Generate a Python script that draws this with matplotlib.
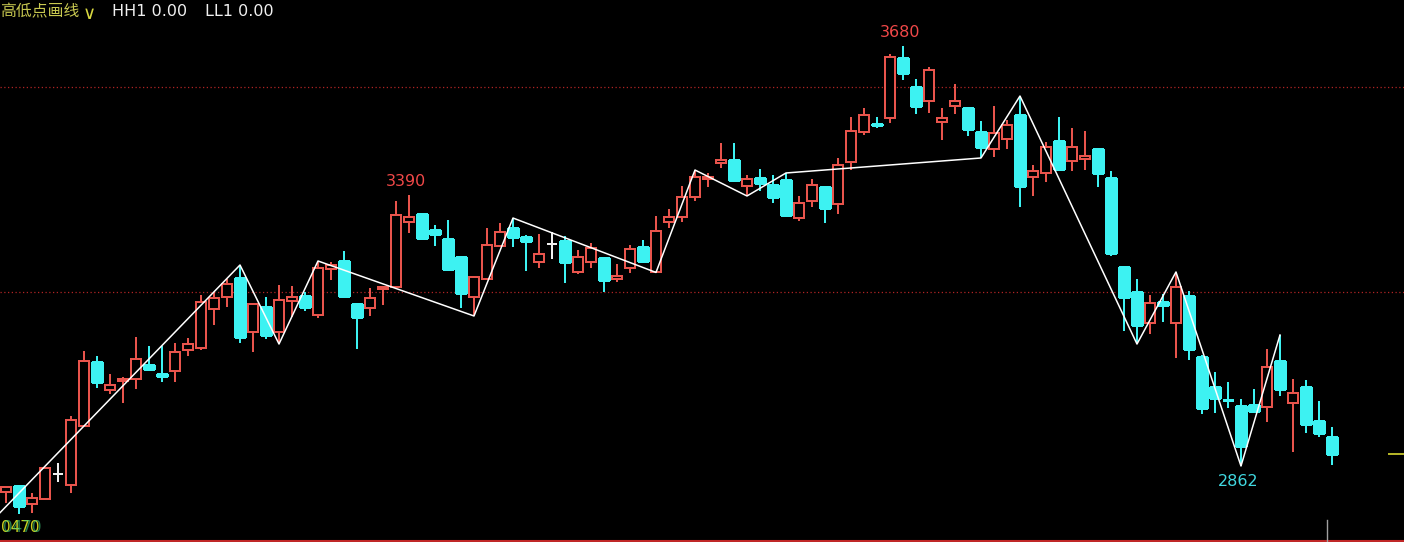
import matplotlib
matplotlib.use('Agg')
import matplotlib.pyplot as plt
from matplotlib.patches import Rectangle

# ---------------- data ----------------
opens = [2811.4, 2823.1, 2788.0, 2797.7, 2846.4, 2825.0, 2939.9, 3064.6, 3010.0, 3027.6,
         3031.5, 3058.7, 3041.2, 3047.0, 3087.9, 3091.8, 3167.8, 3191.2, 3228.2, 3123.0,
         3171.7, 3123.0, 3183.4, 3193.1, 3156.1, 3245.7, 3261.3, 3177.5, 3169.7, 3206.8,
         3210.6, 3337.2, 3352.8, 3321.7, 3304.1, 3269.1, 3191.2, 3226.2, 3290.5, 3325.5,
         3308.0, 3259.3, 3294.4, 3300.2, 3239.9, 3259.3, 3267.1, 3226.2, 3247.6, 3288.5,
         3239.9, 3337.2, 3347.0, 3385.9, 3421.0, 3452.1, 3458.0, 3407.3, 3422.9, 3409.3,
         3419.0, 3345.0, 3378.1, 3405.4, 3372.3, 3454.1, 3512.5, 3529.0, 3539.8, 3656.6,
         3600.2, 3572.9, 3532.0, 3563.2, 3559.3, 3512.5, 3479.4, 3498.9, 3545.6, 3424.9,
         3432.7, 3495.0, 3456.0, 3459.9, 3479.4, 3422.9, 3249.6, 3200.9, 3140.5, 3181.4,
         3140.5, 3193.1, 3074.3, 3015.9, 2991.0, 2978.9, 2980.8, 2976.9, 3066.5, 2984.7,
         3015.9, 2949.6, 2918.5]
highs = [2823.1, 2824.0, 2809.4, 2859.0, 2867.9, 2959.4, 3086.0, 3076.2, 3041.2, 3035.4,
         3113.2, 3095.7, 3095.7, 3101.6, 3111.3, 3195.1, 3200.9, 3226.2, 3253.5, 3178.0,
         3191.2, 3214.5, 3212.6, 3200.9, 3261.3, 3259.3, 3280.8, 3178.0, 3208.7, 3212.6,
         3378.1, 3390.0, 3353.0, 3331.4, 3341.1, 3269.5, 3232.1, 3325.5, 3335.3, 3345.0,
         3311.9, 3313.9, 3317.8, 3310.0, 3282.7, 3296.3, 3269.0, 3255.4, 3292.4, 3302.2,
         3348.9, 3362.5, 3407.3, 3438.5, 3432.7, 3491.1, 3491.1, 3428.8, 3440.5, 3428.8,
         3432.7, 3387.9, 3421.0, 3407.3, 3461.9, 3541.7, 3559.3, 3541.7, 3664.4, 3680.0,
         3615.7, 3639.1, 3559.3, 3606.0, 3560.0, 3533.9, 3563.2, 3535.9, 3582.6, 3448.2,
         3493.0, 3541.7, 3520.3, 3514.5, 3480.0, 3436.6, 3251.5, 3226.2, 3195.1, 3197.0,
         3239.9, 3202.8, 3078.2, 3045.1, 3025.6, 2992.5, 3012.0, 3089.9, 3117.1, 3031.5,
         3029.5, 2988.6, 2938.0]
lows = [2790.0, 2768.5, 2770.5, 2797.0, 2830.9, 2809.4, 2939.0, 3013.9, 3002.2, 2984.7,
        3012.0, 3051.0, 3025.6, 3025.6, 3076.2, 3087.9, 3136.6, 3171.7, 3101.6, 3084.0,
        3109.4, 3099.6, 3152.2, 3163.9, 3150.3, 3224.3, 3189.2, 3089.9, 3154.2, 3175.6,
        3210.0, 3315.8, 3302.2, 3290.5, 3245.0, 3169.7, 3154.2, 3226.0, 3290.0, 3288.5,
        3241.8, 3247.6, 3265.2, 3218.4, 3236.0, 3247.6, 3200.9, 3220.4, 3237.9, 3261.0,
        3239.0, 3325.5, 3337.2, 3378.1, 3405.4, 3442.4, 3415.1, 3387.9, 3397.6, 3374.2,
        3347.0, 3339.2, 3366.4, 3335.3, 3352.8, 3438.5, 3506.7, 3520.3, 3530.0, 3613.8,
        3547.6, 3549.5, 3496.9, 3547.6, 3504.7, 3461.9, 3463.8, 3479.4, 3366.4, 3387.9,
        3415.1, 3440.0, 3436.6, 3438.5, 3405.4, 3271.0, 3124.9, 3099.6, 3119.1, 3142.5,
        3072.4, 3068.5, 2963.3, 2965.3, 2975.0, 2862.0, 2969.0, 2947.7, 2998.3, 2889.3,
        2926.3, 2918.5, 2864.0]
closes = [2821.1, 2784.1, 2799.7, 2858.1, 2846.4, 2951.6, 3066.5, 3025.6, 3019.8, 3031.5,
          3070.4, 3051.0, 3037.3, 3084.0, 3099.6, 3181.4, 3189.2, 3216.5, 3113.2, 3177.5,
          3117.1, 3185.3, 3191.2, 3171.7, 3247.6, 3253.5, 3193.1, 3152.2, 3189.2, 3210.6,
          3350.9, 3347.0, 3306.1, 3313.9, 3245.7, 3199.0, 3230.1, 3292.4, 3317.8, 3308.0,
          3300.2, 3274.9, 3294.4, 3259.3, 3269.1, 3286.6, 3224.3, 3232.1, 3284.6, 3261.3,
          3319.7, 3347.0, 3385.9, 3424.9, 3424.9, 3458.0, 3419.0, 3421.0, 3413.2, 3385.9,
          3350.9, 3374.2, 3409.3, 3364.5, 3448.2, 3514.5, 3545.6, 3527.0, 3658.6, 3627.4,
          3563.2, 3633.3, 3539.8, 3572.9, 3518.4, 3483.3, 3510.6, 3526.1, 3407.3, 3436.6,
          3483.3, 3440.5, 3483.3, 3465.8, 3432.7, 3276.9, 3191.2, 3136.6, 3179.5, 3175.6,
          3210.6, 3089.9, 2975.0, 2994.4, 2990.0, 2901.0, 2969.1, 3054.8, 3012.0, 3004.1,
          2943.8, 2926.3, 2885.4]

# zigzag pivots (bar index, 'H' = high / 'L' = low); first point lies before the visible bars
zz_start_idx = -1
zz_start_price = 2757.0
zz_idx = [18, 21, 24, 36, 39, 50, 53, 57, 60, 75, 78, 87, 90, 95, 98]
zz_type = ['H', 'L', 'H', 'L', 'H', 'L', 'H', 'L', 'H', 'L', 'H', 'L', 'H', 'L', 'H']

# labelled extremes
label_idx = [31, 69, 95]
label_val = [3390, 3680, 2862]
label_kind = ['H', 'H', 'L']

ref_levels = [3600, 3200]

header_name = '高低点画线'
header_items = ['HH1 0.00', 'LL1 0.00']

# ---------------- drawing ----------------
RED = '#e8544c'
CYAN = '#3df2f2'
WHITE = '#f0f0f0'
W, H = 1404, 542

fig = plt.figure(figsize=(W / 100, H / 100), dpi=100, facecolor='black')
ax = fig.add_axes([0, 0, 1, 1])
ax.set_facecolor('black')
ax.axis('off')
ax.set_xlim(-0.4615, 107.54)
ax.set_ylim(2714.0, 3769.6)

# reference dotted lines
for lv in ref_levels:
    ax.axhline(lv, color='#b02424', lw=0.9, ls=(0, (1, 2)), zorder=1)

bw = 0.78
for i, (o, h, l, c) in enumerate(zip(opens, highs, lows, closes)):
    if c > o:
        col = RED
        ax.vlines(i, c, h, color=col, lw=1.1, zorder=3, antialiased=False)
        ax.vlines(i, l, o, color=col, lw=1.1, zorder=3, antialiased=False)
        ax.add_patch(Rectangle((i - bw / 2, o), bw, c - o, facecolor='black',
                               edgecolor=col, lw=1.1, zorder=3, antialiased=False))
    elif c < o:
        col = CYAN
        ax.vlines(i, l, h, color=col, lw=1.1, zorder=3, antialiased=False)
        ax.add_patch(Rectangle((i - bw / 2, c), bw, o - c, facecolor=col,
                               edgecolor=col, lw=1.0, zorder=3, antialiased=False))
    else:
        col = WHITE
        ax.vlines(i, l, h, color=col, lw=1.1, zorder=3, antialiased=False)
        ax.hlines(o, i - bw / 2, i + bw / 2, color=col, lw=1.1, zorder=3, antialiased=False)

# zigzag line
zx = [zz_start_idx] + zz_idx
zy = [zz_start_price] + [highs[k] if t == 'H' else lows[k] for k, t in zip(zz_idx, zz_type)]
ax.plot(zx, zy, color='white', lw=1.1, zorder=4)

# extreme labels
for k, v, kind in zip(label_idx, label_val, label_kind):
    if kind == 'H':
        ax.annotate(str(v), (k, v), xytext=(-2, 4), textcoords='offset points',
                    ha='center', va='bottom', color='#f04848', fontsize=11.5, zorder=5)
    else:
        ax.annotate(str(v), (k, v), xytext=(-2, -6), textcoords='offset points',
                    ha='center', va='top', color='#40d8e0', fontsize=11.5, zorder=5)

# last price marker at right edge
ax.hlines(closes[-1], 106.3, 107.6, color='#d8d830', lw=1.2, zorder=4)
# bottom frame line and small grey cursor tick
ax.axhline(2716.0, color='#c02828', lw=1.5, zorder=2)
ax.axvline(101.6, ymin=0, ymax=22 / H, color='#a0a0a0', lw=1, zorder=2)

# header text
fam = ['Noto Sans CJK SC', 'DejaVu Sans']
fig.text(0 / W, 1 - 12 / H, header_name, color='#c8c850', fontsize=11.4,
         family=fam, va='center', ha='left')
fig.text(83 / W, 1 - 14 / H, '∨', color='#d8d840', fontsize=13,
         family=['DejaVu Sans'], va='center', ha='left')
fig.text(112 / W, 1 - 12 / H, header_items[0], color='#f0f0f0', fontsize=11.5,
         va='center', ha='left')
fig.text(205 / W, 1 - 12 / H, header_items[1], color='#f0f0f0', fontsize=11.5,
         va='center', ha='left')

# overlapping bottom-left labels
fig.text(1 / W, 15 / H, '0470', color='#c8d020', fontsize=11, va='center', ha='left')
fig.text(3 / W, 15 / H, '0470', color='#40d080', fontsize=11, va='center', ha='left', alpha=0.6)

fig.savefig('out.png', dpi=100, facecolor='black')
